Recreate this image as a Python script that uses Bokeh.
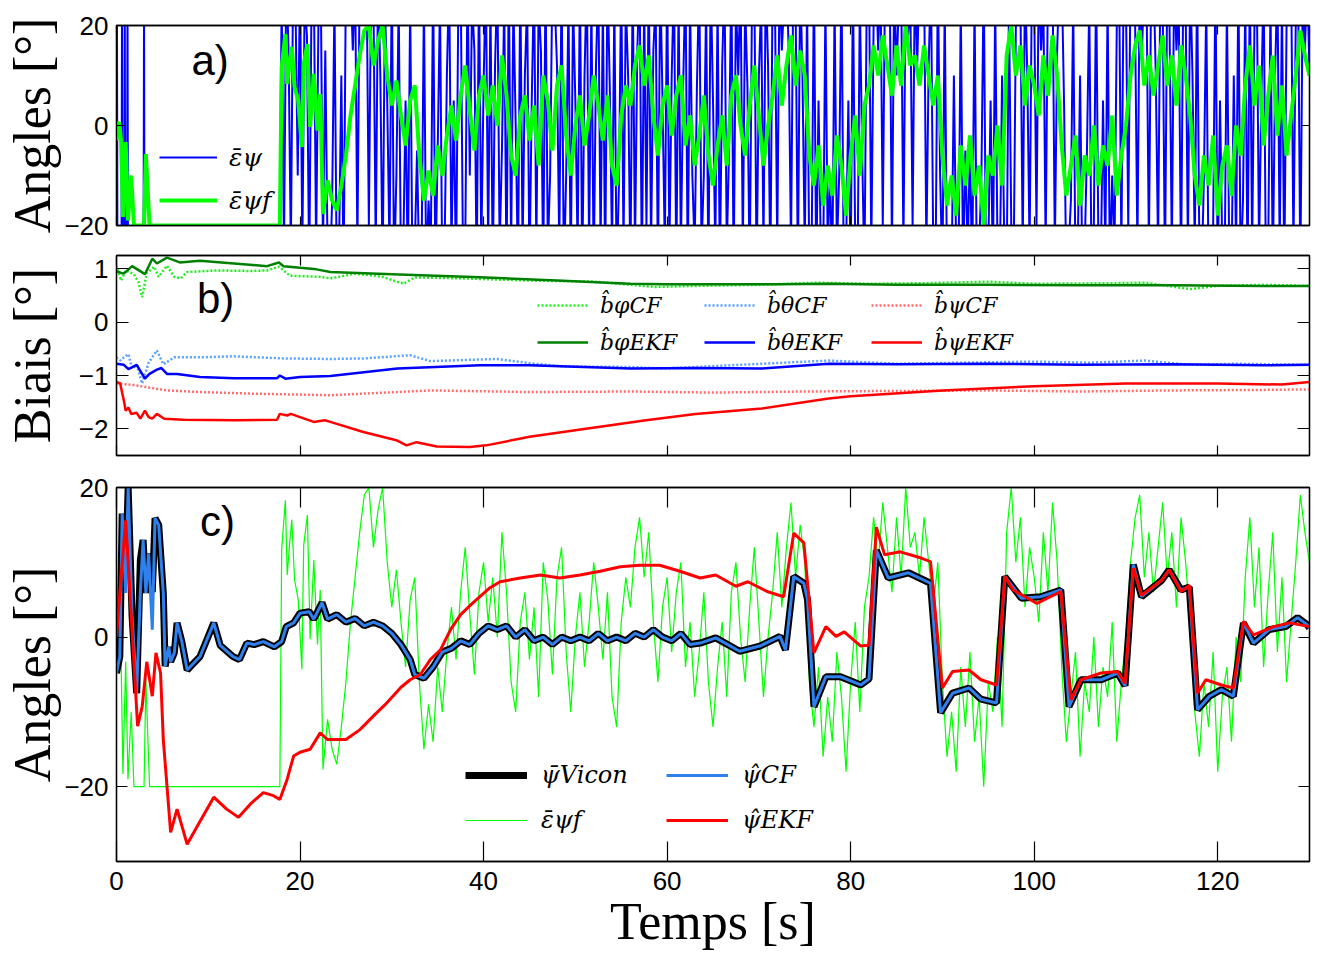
import numpy as np
from bokeh.plotting import figure
from bokeh.models import Range1d, LinearAxis, FixedTicker, Legend, LegendItem, Label
from bokeh.layouts import column
from bokeh.embed import file_html
from bokeh.resources import INLINE

# ---------------- data ----------------
X_TICKS = [0, 20, 40, 60, 80, 100, 120]
YTICKS_A = [-20, 0, 20]
YTICKS_B = [-2, -1, 0, 1]
YTICKS_C = [-20, 0, 20]

# filtered magnetometer heading error (green): irregular start, then every 0.5 s from 23 s
eps_f_start = [(0, -3), (0.1, 0.4), (0.3, 0.5), (0.5, -3), (0.7, -18.3), (1.0, -3.3), (1.25, -19),
               (1.6, -10), (1.9, -20), (3.0, -20), (3.2, -5.7), (3.6, -20), (17.8, -20), (18.0, 11.7),
               (18.4, 18.3), (18.6, 8.3), (18.9, 13), (19.1, 15.7), (19.4, 7.7), (19.8, 5),
               (20.2, -4.3), (20.4, 12.3), (20.8, 16.3), (21.1, -0.3), (21.5, 10.3), (21.9, -1),
               (22.2, 6.3), (22.5, -17.7)]
EPS_F_T0 = 23.0
EPS_F_DT = 0.5
eps_f_rest = [
    -11, -15, -17, -12, -6, 2, 8, 14, 19, 20,
    12, 17, 20, 10, 4, 9, 2, -4, 5, 8,
    -6, -15, -9, -14, -4, -10, -2, 4, -3, 6,
    12, 3, -5, 6, 10, 2, 8, 0, 14, 6,
    -6, -10, 2, 6, -3, 4, -8, 10, 5, -5,
    8, 12, -2, -10, 0, 6, -4, 2, 10, 4,
    -3, 6, -8, -12, 2, 8, 4, 12, 16, 8,
    14, 2, -6, 4, 8, -2, 6, 10, -4, 2,
    -8, -2, 6, -6, -12, -4, 2, -8, 6, 10,
    0, -6, 4, 12, 2, -8, 0, 6, 14, 4,
    12, 18, 8, 15, 10, -6, -12, -4, -16, -8,
    -14, -2, -8, -18, -6, 2, -10, 4, 8, 16,
    10, 18, 12, 6, 16, 8, 20, 12, 14, 8,
    16, 10, 4, 10, -6, -16, -10, -18, -4, -12,
    -2, -14, -8, -20, -6, -10, 0, -12, 14, 20,
    10, 16, 4, 12, 8, 2, 14, 6, 18, 10,
    -4, -14, -8, -2, -16, -6, -10, 0, -12, -4,
    -8, 2, -14, -6, 0, 10, 16, 19, 8, 14,
    6, 12, 18, 8, 14, 4, 16, 10, 2, -10,
    -16, -6, -12, -2, -18, -8, -4, -14, 0, -6,
    8, 16, 4, 12, -4, 6, 14, -2, 8, -6,
    2, 10, 19, 14, 10]

# raw heading error (blue): irregular start, then every 0.25 s from 18 s
eps_raw_start = [(0, 2), (0.05, 25), (0.1, -25), (0.55, -25), (0.6, 25), (0.65, -25), (0.85, -25),
                 (0.9, 25), (0.95, -25), (1.15, -25), (1.2, 25), (1.25, -25), (2.95, -25), (3.0, 25),
                 (3.05, -25), (17.75, -25)]
EPS_RAW_T0 = 18.0
EPS_RAW_DT = 0.25
eps_raw_rest = [
    25, -25, 30, 15, -25, 30, 25, -10, 30, -25, 25, 18, -30, 25, 30, -25, 20, 30, -25, 15,
    -25, -30, -15, 25, -30, -25, 10, -30, 30, 25, 30, 15, 30, -25, 30, 25, 20, 30, -20, 30,
    25, -25, 30, 10, -30, 25, 5, -25, 30, -30, -10, 25, -30, -25, 5, -30, 25, -30, -25, -5,
    -30, -25, 25, -30, -15, -25, 30, -30, -5, 25, -30, -25, 10, 30, -25, 5, -30, 25, 30, -25,
    -25, 30, -10, 25, 15, -30, 30, -25, 8, 30, -25, 25, -30, 12, 30, -25, -5, 25, -30, 30,
    -25, 25, 0, -30, 30, -25, 10, 25, -30, 5, 30, -25, 25, 15, -30, 30, -25, -10, 30, 25,
    12, -25, 30, -30, -10, 25, -30, 25, 5, -25, 30, -30, 10, 30, -25, 25, -30, 12, 30, -25,
    25, -30, 30, 8, -25, 25, -30, -12, 30, -25, 25, 10, -30, 30, -25, 15, 30, -30, 25, -20,
    30, -25, 15, 25, -30, 30, 5, -25, 30, -25, 10, 30, -30, 25, -25, 8, 30, -30, 25, -10,
    -25, 8, 30, -25, -10, 25, -30, 30, 5, -25, 25, -30, 12, 30, -25, -5, 30, -30, 25, 10,
    30, -25, 25, 8, -30, 25, 30, -30, 10, 25, -25, 30, 12, -30, 30, 25, -25, 30, 15, 25,
    30, 15, -25, 30, 25, -30, 30, 10, -25, 25, -30, -25, 30, -30, 5, -25, -30, 25, -25, -10,
    -30, 25, -25, -10, 30, -30, -25, 5, -30, 30, -25, -30, 25, -5, -30, 25, 30, -25, 20, 30,
    15, 30, -20, 30, 25, 30, -25, 30, 10, 25, 30, -25, 30, 18, 25, -20, 30, 12, 30, 25,
    30, -25, 12, 30, -25, -30, 30, -10, -30, 25, -30, -20, -30, 10, -25, -30, 25, -30, -5, -25,
    -5, -30, 25, -30, -25, -10, 30, -30, -25, 5, -30, 25, -25, -30, 10, -25, -30, 25, -20, -30,
    20, 30, 25, -25, 30, 10, -25, 30, 25, -20, 30, 15, 25, -25, 30, 20, 30, -25, 15, 30,
    30, 5, -30, -25, -15, 25, -30, -25, 10, -30, -25, -5, 25, -30, -20, 30, -25, -30, 5, -25,
    25, -30, -10, -25, 20, 30, -25, 30, 25, -20, 30, 25, 20, -25, 30, 15, 30, 25, -25, 30,
    30, 10, -25, 30, 25, -30, 30, 20, -25, 30, 15, 25, -30, 30, 25, -25, 30, 10, -25, 30,
    -25, -30, -10, 25, -30, -25, -20, 30, -30, 5, -25, -30, 25, -25, -30, 10, -25, 30, -30, -15,
    25, -30, 30, -25, 20, 30, -25, 5, 30, -30, -25, 25, -30, 10, 30, -25, 25, -30, 20, 30,
    30, -25, 20, 30, -30, 25, 15, 30, 10]

# Vicon heading (black)
psi_vicon = [(0, -4.8), (0.36, -2.6), (0.62, 16.5), (1.0, 9), (1.27, 20), (1.7, 2.7), (2.2, -7.5),
             (2.6, 10.3), (2.9, 13), (3.2, 5.9), (3.5, 11.2), (3.9, 6), (4.2, 15.9), (4.6, 15),
             (5.1, 5.9), (5.3, -3.9), (5.7, -1.3), (5.9, -3.3), (6.3, -2.1), (6.6, 1.9), (7.1, -0.5),
             (7.7, -4.4), (9.1, -2.6), (10.6, 1.9), (11.3, -1.1), (12.7, -2.6), (13.4, -3.0),
             (14.2, -0.8), (15.0, -1.0), (16.0, -0.6), (17.2, -1.3), (18.0, -0.6), (18.5, 1.4),
             (19.3, 1.9), (20.0, 3.2), (21.0, 3.4), (21.5, 2.4), (22.4, 4.6), (23.0, 2.4), (24, 3),
             (25, 2), (26, 2.5), (27, 1.5), (28, 2), (29, 1.5), (30, 0.5), (31, -1), (32, -3),
             (32.5, -5), (33.5, -5.5), (34.5, -4), (35.5, -2), (36.5, -1.5), (37.5, -0.5), (38.5, -1),
             (39.5, 0.5), (40.5, 1.5), (41.5, 1), (42.5, 1.5), (43.5, 0), (44.5, 1), (45.5, -0.5),
             (46.5, 0), (47.5, -1), (48.5, 0), (49.5, -0.5), (50.5, 0), (51.5, -0.5), (52.5, 0.5),
             (53.5, -0.5), (54.5, 0), (55.5, -0.5), (56.5, 0.5), (57.5, 0), (58.5, 1), (59.5, 0),
             (60.5, -0.5), (61.5, 0.5), (62.5, -1), (63.6, -0.8), (65.3, -0.1), (67.9, -1.9),
             (70.1, -1.2), (72.3, 0.1), (72.9, -1.7), (73.8, 8.1), (74.9, 7.2), (75.3, 5), (76.0, -9.3),
             (77.3, -5.3), (78.9, -5.3), (81.1, -6.4), (82.0, -5.6), (82.8, 11.6), (84.1, 7.9),
             (86.3, 8.6), (88.7, 7.2), (89.8, -10.1), (91.1, -7.5), (92.9, -6.8), (94.2, -8.3),
             (95.9, -8.8), (96.8, 8.1), (98.6, 5.2), (100.7, 5.4), (102.9, 6.3), (103.8, -9.3),
             (105.1, -5.7), (107.3, -5.7), (109.1, -4.8), (109.9, -6.5), (110.8, 9.7), (111.7, 5.4),
             (113.9, 7.6), (114.7, 9.0), (116.0, 6.3), (116.9, 6.7), (117.8, -9.7), (119.1, -7.9),
             (120.4, -7.0), (121.7, -7.9), (122.8, 1.9), (123.9, -0.8), (125.6, 1.0), (127.4, 1.4),
             (128.7, 2.6), (129.8, 1.6), (130, 1.2)]
# complementary filter heading (blue): same as Vicon except where it visibly differs
psi_cf_diff = {1.0: 5.9, 2.6: 6.0, 3.9: 1.0}

# EKF heading (red)
psi_ekf = [(0, 0.1), (0.5, 8), (1.0, 15.6), (1.6, 3), (2.3, -11.9), (2.8, -9.3), (3.3, -3.3),
           (3.9, -7.9), (4.3, -2.1), (4.8, -4.8), (5.1, -13.7), (5.9, -26.1), (6.6, -23.0),
           (7.7, -27.7), (8.8, -25.3), (10.6, -21.4), (12.0, -23.0), (13.3, -24.1), (14.6, -22.3),
           (16.0, -20.8), (17.1, -21.2), (17.8, -21.7), (18.6, -19.0), (19.3, -15.9), (20.0, -15.4),
           (21.1, -15.0), (22.2, -12.8), (23.0, -13.7), (25, -13.7), (26.5, -12.4), (28.2, -10.3),
           (29.3, -9), (31, -6.7), (32, -5.7), (33.1, -5), (34.2, -3), (35.3, -1.7), (36.4, 1),
           (37.5, 3), (38.6, 4.3), (39.6, 5.4), (40.7, 6.6), (41.8, 7.4), (44, 7.9), (46.2, 8.3),
           (48.3, 7.9), (50.5, 8.3), (52.7, 8.8), (54.9, 9.4), (57, 9.6), (59.2, 9.6), (61.4, 8.8),
           (63.6, 7.9), (65.3, 8.3), (67.5, 6.8), (68.8, 7.4), (70.9, 6.1), (72.7, 5.4), (73.8, 13.9),
           (74.9, 12.6), (76.0, -2.1), (77.3, 1.4), (78.4, 0.1), (79.3, 0.7), (81.1, -1.2),
           (82.0, -1.1), (82.8, 14.7), (83.7, 11.0), (85.4, 11.4), (87.6, 10.6), (88.7, 10.1),
           (90.0, -6.8), (91.1, -4.6), (92.9, -4.4), (94.2, -5.7), (95.9, -6.4), (96.8, 8.1),
           (97.7, 6.3), (100.3, 4.5), (102.9, 6.1), (104.0, -8.4), (105.1, -5.7), (107.3, -4.8),
           (109.1, -4.6), (109.9, -6.2), (110.8, 9.2), (111.7, 5.6), (113.9, 7.6), (114.7, 9.0),
           (116.0, 6.1), (116.9, 6.9), (117.8, -7.5), (118.7, -5.7), (120.4, -6.4), (121.7, -6.8),
           (122.8, 2.1), (123.9, 0.3), (126.1, 1.4), (127.8, 1.9), (130, 1.4)]

# gyro biases
b_phi_cf = [(0, 1.06), (0.5, 0.78), (1.0, 0.97), (1.9, 0.9), (2.4, 0.75), (2.8, 0.47), (3.3, 0.92),
            (4.1, 1.04), (4.6, 0.85), (5.5, 1.06), (6.3, 0.85), (7.0, 0.82), (7.7, 0.94), (10.9, 0.97),
            (14.6, 0.96), (16.4, 0.97), (17.7, 1.04), (18.9, 0.87), (22.2, 0.85), (23.3, 0.82),
            (26, 0.91), (29, 0.85), (31.3, 0.72), (32.5, 0.84), (37.8, 0.82), (45, 0.78), (52, 0.76),
            (58.7, 0.66), (63.1, 0.68), (70, 0.7), (76.4, 0.74), (82, 0.72), (88, 0.73), (95, 0.76),
            (100, 0.72), (108, 0.73), (112, 0.74), (117, 0.62), (120, 0.68), (125, 0.7), (130, 0.68)]
b_phi_ekf = [(0, 0.95), (0.8, 0.91), (1.7, 1.05), (3.1, 0.9), (3.9, 1.19), (4.4, 1.1), (5.5, 1.21),
             (6.9, 1.12), (9.1, 1.15), (12.8, 1.1), (16.4, 1.05), (17.7, 1.12), (18.2, 1.05),
             (21.8, 0.99), (23.3, 0.94), (30, 0.9), (39.6, 0.84), (48, 0.78), (56, 0.72), (60, 0.71),
             (66.8, 0.71), (72, 0.71), (77.7, 0.72), (85, 0.7), (95, 0.7), (105, 0.69), (115, 0.69),
             (125, 0.68), (130, 0.68)]
b_theta_cf = [(0, -0.66), (0.4, -0.72), (0.8, -0.66), (1.3, -0.6), (1.7, -0.87), (2.2, -0.8),
              (2.8, -1.15), (3.5, -0.76), (4.4, -0.53), (5.1, -0.79), (6.3, -0.66), (9.1, -0.66),
              (12.8, -0.64), (18.2, -0.68), (23.3, -0.69), (26.9, -0.68), (32, -0.62), (34.2, -0.73),
              (41.5, -0.69), (45, -0.77), (48.7, -0.83), (56, -0.84), (59.6, -0.87), (63.1, -0.84),
              (70.3, -0.78), (77.6, -0.72), (85, -0.78), (92, -0.76), (100, -0.74), (106, -0.76),
              (112, -0.72), (117, -0.8), (122, -0.78), (130, -0.8)]
b_theta_ekf = [(0, -0.78), (0.8, -0.8), (1.3, -0.88), (2.2, -0.8), (3.1, -1.06), (3.6, -0.97),
               (4.4, -0.89), (4.9, -0.86), (5.5, -0.97), (6.6, -0.97), (9.1, -1.03), (12.8, -1.05),
               (17.5, -1.05), (17.8, -1.0), (18.4, -1.06), (20, -1.03), (23.3, -1.01), (30.6, -0.87),
               (39.6, -0.81), (45, -0.81), (56, -0.87), (63.1, -0.86), (70.3, -0.87), (77.6, -0.78),
               (85, -0.79), (95, -0.78), (105, -0.8), (115, -0.79), (125, -0.81), (130, -0.8)]
b_psi_cf = [(0, -1.15), (1.9, -1.18), (5.5, -1.28), (9.1, -1.31), (14.6, -1.34), (23.3, -1.37),
            (34.2, -1.28), (45, -1.31), (56, -1.3), (65, -1.32), (75, -1.3), (85, -1.29),
            (95, -1.28), (105, -1.3), (115, -1.28), (125, -1.27), (130, -1.26)]
b_psi_ekf = [(0, -1.12), (0.4, -1.15), (0.8, -1.47), (1.0, -1.66), (1.3, -1.6), (1.6, -1.72),
             (2.2, -1.7), (2.6, -1.81), (3.1, -1.66), (3.5, -1.78), (3.9, -1.81), (4.4, -1.72),
             (5.2, -1.81), (7.3, -1.83), (12.8, -1.84), (17.5, -1.83), (17.8, -1.72), (18.6, -1.75),
             (19.0, -1.72), (20, -1.78), (21.5, -1.87), (22.7, -1.84), (23.3, -1.87), (26.9, -2.06),
             (30.6, -2.22), (31.6, -2.31), (32.7, -2.25), (34.9, -2.33), (38.5, -2.34), (40.3, -2.31),
             (45, -2.15), (52.3, -1.97), (57.7, -1.84), (63.1, -1.72), (70.3, -1.62), (77.6, -1.43),
             (80, -1.39), (90, -1.28), (100, -1.2), (110, -1.15), (120, -1.15), (127, -1.17),
             (130, -1.12)]


def unzip(pairs):
    return [p[0] for p in pairs], [p[1] for p in pairs]


def regular(pairs, t0, dt, vals):
    t, v = unzip(pairs)
    return t + [t0 + dt * i for i in range(len(vals))], v + list(vals)


# ---------------- styling helpers ----------------
SANS = "Liberation Sans"
SERIF = "Liberation Serif"
LEG_FONT = "DejaVu Serif"
W = 1322
FRAME_LEFT = 116


def make_fig(height, yr, top, bottom):
    p = figure(width=W, height=height, x_range=Range1d(0, 130), y_range=Range1d(*yr),
               output_backend="svg", toolbar_location=None,
               min_border_left=FRAME_LEFT, min_border_right=13,
               min_border_top=top, min_border_bottom=bottom)
    p.xgrid.visible = False
    p.ygrid.visible = False
    p.outline_line_color = "black"
    p.outline_line_width = 1.3
    p.background_fill_color = "white"
    p.border_fill_color = "white"
    return p


def style_axis(ax, ticks, tick_len, labels=True):
    ax.ticker = FixedTicker(ticks=ticks)
    ax.major_tick_in = tick_len
    ax.major_tick_out = 0
    ax.minor_tick_line_color = None
    ax.axis_line_color = "black"
    ax.axis_line_width = 1.3
    ax.major_tick_line_color = "black"
    ax.major_tick_line_width = 1.2
    ax.major_label_text_font = SANS
    ax.major_label_text_font_size = "26px"
    ax.major_label_text_color = "black"
    ax.major_label_standoff = 8
    if not labels:
        ax.major_label_overrides = {t: "" for t in ticks}


def frame_axes(p, yticks, xt_len, yt_len, xlabels):
    bottom = p.xaxis[0]
    left = p.yaxis[0]
    style_axis(bottom, X_TICKS, xt_len, xlabels)
    style_axis(left, yticks, yt_len, True)
    top = LinearAxis()
    style_axis(top, X_TICKS, xt_len, False)
    p.add_layout(top, "above")
    right = LinearAxis()
    style_axis(right, yticks, yt_len, False)
    p.add_layout(right, "right")
    return bottom, left


def set_label(ax, text, standoff):
    ax.axis_label = text
    ax.axis_label_text_font = SERIF
    ax.axis_label_text_font_size = "52px"
    ax.axis_label_text_font_style = "normal"
    ax.axis_label_text_color = "black"
    ax.axis_label_standoff = standoff


def legend(p, items, loc, gw, gh, sp, lw, standoff, fs, nrows=None):
    kw = dict(items=items, location=loc, background_fill_alpha=0, border_line_color=None,
              padding=0, margin=0, glyph_width=gw, glyph_height=gh, label_height=gh,
              label_width=lw, spacing=sp, label_standoff=standoff,
              label_text_font=LEG_FONT, label_text_font_style="italic",
              label_text_font_size=fs, label_text_color="black")
    if nrows:
        kw["nrows"] = nrows
    p.add_layout(Legend(**kw))


# ---------------- panel a ----------------
pa = make_fig(240, (-20, 20), 25, 15)
xa_a, ya_a = frame_axes(pa, YTICKS_A, 9, 8, False)
set_label(ya_a, "Angles [°]", 0)
raw_t, raw_v = regular(eps_raw_start, EPS_RAW_T0, EPS_RAW_DT, eps_raw_rest)
ef_t, ef_v = regular(eps_f_start, EPS_F_T0, EPS_F_DT, eps_f_rest)
ra1 = pa.line(raw_t, raw_v, line_color="#0000ff", line_width=2)
ra2 = pa.line(ef_t, ef_v, line_color="#00ff00", line_width=4)
legend(pa, [LegendItem(label="ε̄ψ", renderers=[ra1]), LegendItem(label="ε̄ψf", renderers=[ra2])],
       (43, 10), 58, 30, 13, 40, 12, "25px")
pa.add_layout(Label(x=10.2, y=13, text="a)", text_font=SANS, text_font_size="42px",
                    text_align="center", text_baseline="middle", text_color="black"))

# ---------------- panel b ----------------
pb = make_fig(231, (-2.5, 1.25), 15, 16)
xa_b, ya_b = frame_axes(pb, YTICKS_B, 10, 12, False)
set_label(ya_b, "Biais [°]", 15)
DOT = "2 2"
t, v = unzip(b_phi_cf); rb1 = pb.line(t, v, line_color="#22ee22", line_width=2.5, line_dash=DOT)
t, v = unzip(b_phi_ekf); rb2 = pb.line(t, v, line_color="#008000", line_width=2.5)
t, v = unzip(b_theta_cf); rb3 = pb.line(t, v, line_color="#5aa0ff", line_width=2.5, line_dash=DOT)
t, v = unzip(b_theta_ekf); rb4 = pb.line(t, v, line_color="#0000ff", line_width=2.5)
t, v = unzip(b_psi_cf); rb5 = pb.line(t, v, line_color="#ff6a6a", line_width=2.5, line_dash=DOT)
t, v = unzip(b_psi_ekf); rb6 = pb.line(t, v, line_color="#ff0000", line_width=2.5)
legend(pb, [LegendItem(label="b̂φCF", renderers=[rb1]), LegendItem(label="b̂φEKF", renderers=[rb2]),
            LegendItem(label="b̂θCF", renderers=[rb3]), LegendItem(label="b̂θEKF", renderers=[rb4]),
            LegendItem(label="b̂ψCF", renderers=[rb5]), LegendItem(label="b̂ψEKF", renderers=[rb6])],
       (421, 100), 51, 26, 11, 93, 12, "22px", nrows=2)
pb.add_layout(Label(x=10.8, y=0.44, text="b)", text_font=SANS, text_font_size="42px",
                    text_align="center", text_baseline="middle", text_color="black"))

# ---------------- panel c ----------------
pc = make_fig(481, (-30, 20), 16, 90)
xa_c, ya_c = frame_axes(pc, YTICKS_C, 20, 11, True)
set_label(ya_c, "Angles [°]", 0)
set_label(xa_c, "Temps [s]", 0)
xa_c.major_label_standoff = 10
rc_g = pc.line(ef_t, ef_v, line_color="#00ff00", line_width=1.2)
vt, vv = unzip(psi_vicon)
rc_k = pc.line(vt, vv, line_color="black", line_width=7)
cv = [psi_cf_diff.get(tt, val) for tt, val in psi_vicon]
rc_b = pc.line(vt, cv, line_color="#2f80ed", line_width=3)
t, v = unzip(psi_ekf)
rc_r = pc.line(t, v, line_color="#ff0000", line_width=3)
legend(pc, [LegendItem(label="ψ̄Vicon", renderers=[rc_k]), LegendItem(label="ε̄ψf", renderers=[rc_g]),
            LegendItem(label="ψ̂CF", renderers=[rc_b]), LegendItem(label="ψ̂EKF", renderers=[rc_r])],
       (349, 27), 62, 28, 17, 108, 14, "24px", nrows=2)
pc.add_layout(Label(x=11.0, y=15.4, text="c)", text_font=SANS, text_font_size="42px",
                    text_align="center", text_baseline="middle", text_color="black"))

layout = column(pa, pb, pc)
open("out.html", "w").write(file_html(layout, INLINE))
